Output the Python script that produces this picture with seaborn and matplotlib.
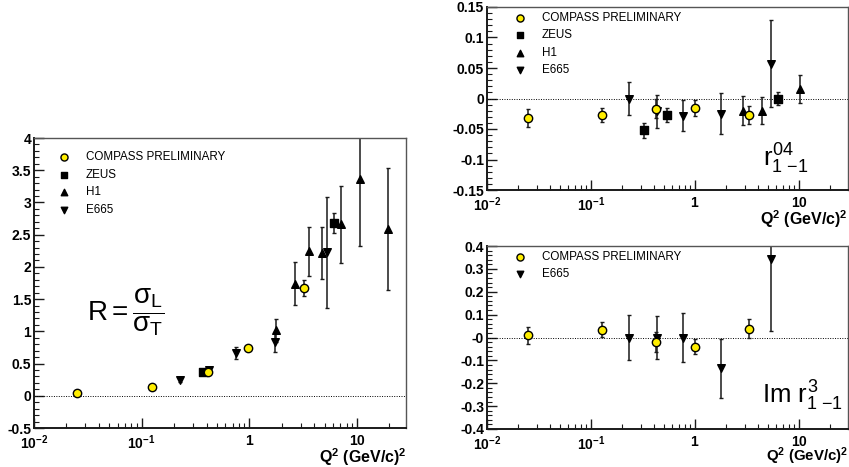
"""
Rho0 production: R = sigma_L / sigma_T and two spin density matrix elements
versus Q^2, COMPASS preliminary compared with ZEUS, H1 and E665.
"""

import numpy as np
import pandas as pd
import seaborn as sns
import matplotlib.pyplot as plt
from matplotlib.ticker import AutoMinorLocator, FixedLocator, LogLocator, NullFormatter

# ---- data: R = sigma_L / sigma_T ----
r_compass_q2 = [0.025, 0.126, 0.41, 0.98, 3.2]
r_compass_val = [0.04, 0.136, 0.374, 0.746, 1.67]
r_compass_err = [0.02, 0.02, 0.03, 0.03, 0.12]
r_zeus_q2 = [0.37, 6.1]
r_zeus_val = [0.37, 2.68]
r_zeus_err = [0.03, 0.16]
r_h1_q2 = [1.77, 2.66, 3.57, 4.7, 7.08, 10.7, 19.4]
r_h1_val = [1.015, 1.74, 2.24, 2.215, 2.66, 3.37, 2.59]
r_h1_err = [0.18, 0.33, 0.38, 0.41, 0.6, 1.05, 0.95]
r_e665_q2 = [0.225, 0.42, 0.745, 1.73, 5.3]
r_e665_val = [0.25, 0.40, 0.663, 0.834, 2.225]
r_e665_err = [0.03, 0.03, 0.09, 0.15, 0.86]

# ---- data: r04_1-1 ----
r04_compass_q2 = [0.0247, 0.127, 0.417, 1.0, 3.32]
r04_compass_val = [-0.032, -0.027, -0.0164, -0.0153, -0.027]
r04_compass_err = [0.015, 0.012, 0.016, 0.013, 0.015]
r04_zeus_q2 = [0.32, 0.543, 6.29]
r04_zeus_val = [-0.052, -0.027, 0.0]
r04_zeus_err = [0.012, 0.012, 0.011]
r04_h1_q2 = [2.9, 4.42, 10.1]
r04_h1_val = [-0.0197, -0.02, 0.0153]
r04_h1_err = [0.023, 0.022, 0.023]
r04_e665_q2 = [0.23, 0.426, 0.762, 1.76, 5.35]
r04_e665_val = [0.0, -0.021, -0.028, -0.025, 0.057]
r04_e665_err = [0.027, 0.027, 0.026, 0.034, 0.071]

# ---- data: Im r3_1-1 ----
im_compass_q2 = [0.0247, 0.127, 0.417, 1.0, 3.32]
im_compass_val = [0.009, 0.034, -0.02, -0.041, 0.039]
im_compass_err = [0.038, 0.032, 0.044, 0.033, 0.042]
im_e665_q2 = [0.23, 0.43, 0.762, 1.76, 5.35]
im_e665_val = [0.0, 0.0, 0.0, -0.135, 0.345]
im_e665_err = [0.097, 0.092, 0.108, 0.13, 0.318]

experiments = ["COMPASS PRELIMINARY", "ZEUS", "H1", "E665"]
x_tick_vals = [0.01, 0.1, 1, 10]
x_tick_labels = [r"$\mathbf{10^{-2}}$", r"$\mathbf{10^{-1}}$", r"$\mathbf{1}$", r"$\mathbf{10}$"]
r_yticks = [-0.5, 0, 0.5, 1, 1.5, 2, 2.5, 3, 3.5, 4]
r_ylabels = ["-0.5", "0", "0.5", "1", "1.5", "2", "2.5", "3", "3.5", "4"]
r04_yticks = [-0.15, -0.1, -0.05, 0, 0.05, 0.1, 0.15]
r04_ylabels = ["-0.15", "-0.1", "-0.05", "0", "0.05", "0.1", "0.15"]
im_yticks = [-0.4, -0.3, -0.2, -0.1, 0, 0.1, 0.2, 0.3, 0.4]
im_ylabels = ["-0.4", "-0.3", "-0.2", "-0.1", "-0", "0.1", "0.2", "0.3", "0.4"]

markers = {"COMPASS PRELIMINARY": "o", "ZEUS": "s", "H1": "^", "E665": "v"}
colors = {"COMPASS PRELIMINARY": "#ffee00", "ZEUS": "black", "H1": "black", "E665": "black"}
sizes = {"COMPASS PRELIMINARY": 36, "ZEUS": 30, "H1": 30, "E665": 30}

sns.set_theme(style="ticks")
plt.rcParams["font.family"] = ["Liberation Sans", "DejaVu Sans"]
plt.rcParams["text.color"] = "black"
plt.rcParams["xtick.color"] = "black"
plt.rcParams["ytick.color"] = "black"
plt.rcParams["axes.labelcolor"] = "black"
plt.rcParams["mathtext.fontset"] = "custom"
plt.rcParams["mathtext.rm"] = "Liberation Sans"
plt.rcParams["mathtext.it"] = "Liberation Sans"
plt.rcParams["mathtext.bf"] = "Liberation Sans:bold"


def make_frame(series):
    rows = []
    for name, q2, val, err in series:
        for a, b, c in zip(q2, val, err):
            rows.append({"q2": a, "val": b, "err": c, "exp": name})
    return pd.DataFrame(rows)


def draw_panel(ax, df, yticks, ylabels, ylim, legend_anchor):
    order = [e for e in experiments if e in df["exp"].unique()]
    for name in order:
        sub = df[df["exp"] == name]
        ax.errorbar(sub["q2"], sub["val"], yerr=sub["err"], fmt="none",
                    ecolor="#1a1a1a", elinewidth=1.1, capsize=1.6, capthick=1.0,
                    zorder=2)
    ax.axhline(0, color="black", lw=0.7, ls=(0, (1, 1.5)), zorder=1)
    # COMPASS last so it sits on top
    plot_order = order[1:] + order[:1]
    for name in plot_order:
        sub = df[df["exp"] == name]
        sns.scatterplot(data=sub, x="q2", y="val", marker=markers[name],
                        color=colors[name], s=sizes[name], edgecolor="black",
                        linewidth=1.0, label=name, ax=ax, zorder=3)
    handles, labels = ax.get_legend_handles_labels()
    lookup = dict(zip(labels, handles))
    leg = ax.legend([lookup[n] for n in order], order, loc="upper left",
                    bbox_to_anchor=legend_anchor, frameon=False, fontsize=8.4,
                    borderpad=0, borderaxespad=0, handlelength=1.0,
                    handletextpad=1.35, labelspacing=0.48, markerscale=0.85)
    for t in leg.get_texts():
        t.set_color("black")

    ax.set_xscale("log")
    ax.set_ylim(*ylim)
    ax.xaxis.set_major_locator(FixedLocator(x_tick_vals))
    ax.set_xticklabels(x_tick_labels)
    ax.xaxis.set_minor_locator(LogLocator(base=10, subs=np.arange(2, 10)))
    ax.xaxis.set_minor_formatter(NullFormatter())
    ax.set_yticks(yticks)
    ax.set_yticklabels(ylabels)
    ax.yaxis.set_minor_locator(AutoMinorLocator(5))
    ax.tick_params(which="both", direction="in", top=False, right=False,
                   colors="#1a1a1a", labelcolor="black")
    ax.tick_params(which="major", length=7, width=1.0, labelsize=10)
    ax.tick_params(axis="y", which="major", pad=2)
    ax.tick_params(axis="x", which="major", pad=4)
    ax.tick_params(which="minor", length=3.5, width=0.8)
    for lab in ax.get_xticklabels() + ax.get_yticklabels():
        lab.set_fontweight("bold")
    ax.set_xlabel("")
    ax.set_ylabel("")
    for side in ["left", "bottom"]:
        ax.spines[side].set_linewidth(1.4)
        ax.spines[side].set_color("#1a1a1a")
    for side in ["top", "right"]:
        ax.spines[side].set_linewidth(1.0)
        ax.spines[side].set_color("#555555")


fig = plt.figure(figsize=(8.49, 4.67), dpi=100)
W, H = 849.0, 467.0
ax_r = fig.add_axes([34 / W, 1 - 428 / H, 372 / W, 290 / H])
ax_r04 = fig.add_axes([487 / W, 1 - 190 / H, 361 / W, 183 / H])
ax_im = fig.add_axes([487 / W, 1 - 429 / H, 361 / W, 183 / H])

df_r = make_frame([
    ("COMPASS PRELIMINARY", r_compass_q2, r_compass_val, r_compass_err),
    ("ZEUS", r_zeus_q2, r_zeus_val, r_zeus_err),
    ("H1", r_h1_q2, r_h1_val, r_h1_err),
    ("E665", r_e665_q2, r_e665_val, r_e665_err),
])
df_r04 = make_frame([
    ("COMPASS PRELIMINARY", r04_compass_q2, r04_compass_val, r04_compass_err),
    ("ZEUS", r04_zeus_q2, r04_zeus_val, r04_zeus_err),
    ("H1", r04_h1_q2, r04_h1_val, r04_h1_err),
    ("E665", r04_e665_q2, r04_e665_val, r04_e665_err),
])
df_im = make_frame([
    ("COMPASS PRELIMINARY", im_compass_q2, im_compass_val, im_compass_err),
    ("E665", im_e665_q2, im_e665_val, im_e665_err),
])

draw_panel(ax_r, df_r, r_yticks, r_ylabels, (-0.5, 4), (0.065, 0.955))
ax_r.set_xlim(0.01, 28.5)
draw_panel(ax_r04, df_r04, r04_yticks, r04_ylabels, (-0.15, 0.15), (0.076, 0.975))
ax_r04.set_xlim(0.01, 29.5)
draw_panel(ax_im, df_im, im_yticks, im_ylabels, (-0.4, 0.4), (0.076, 0.975))
ax_im.set_xlim(0.01, 29.5)

# panel annotations
ax_r.text(0.245, 0.40, r"$R = \dfrac{\sigma_L}{\sigma_T}$", transform=ax_r.transAxes,
          fontsize=20, ha="center", va="center")
ax_r04.text(0.828, 0.17, r"$r^{04}_{1\ {-}1}$", transform=ax_r04.transAxes,
            fontsize=18.5, ha="center", va="center")
ax_im.text(0.873, 0.18, r"$\mathrm{Im}\ r^{3}_{1\ {-}1}$", transform=ax_im.transAxes,
           fontsize=18.5, ha="center", va="center")

# axis titles in the lower right corner
for x_right, y, fs in [(407 / W, 1 - 457 / H, 11.5), (848 / W, 1 - 219 / H, 11.5),
                       (848 / W, 1 - 456 / H, 10.8)]:
    fig.text(x_right, y, "Q$^\\mathbf{2}$ (GeV/c)$^\\mathbf{2}$", ha="right", va="center",
             fontsize=fs, fontweight="bold")

fig.savefig("out.png", dpi=100)
